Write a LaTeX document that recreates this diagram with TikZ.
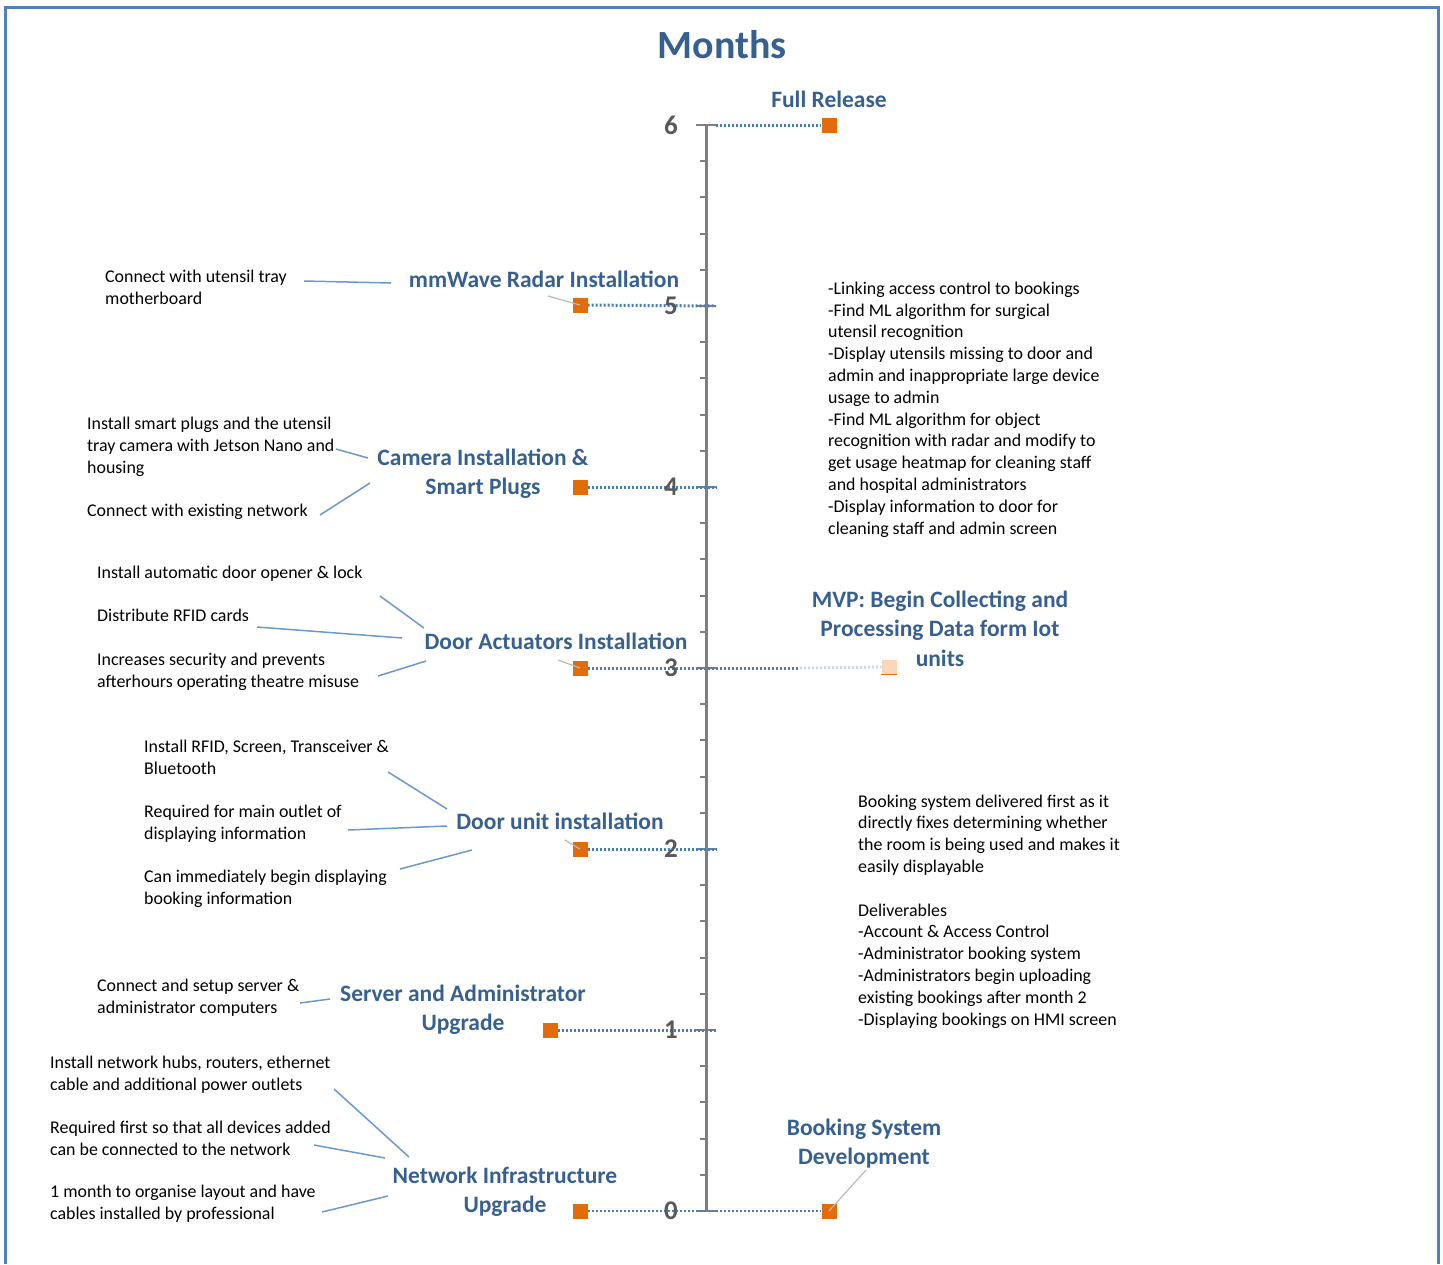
\documentclass[tikz,border=0pt]{standalone}
\usepackage{fontspec}
\setmainfont{Carlito}
\definecolor{mblue}{HTML}{376092}
\definecolor{lblue}{HTML}{6C98D0}
\definecolor{dblue}{HTML}{4A7EBB}
\definecolor{frameblue}{HTML}{4F81BD}
\definecolor{morange}{HTML}{E36C0A}
\definecolor{fadeorange}{HTML}{FAD7B8}
\definecolor{axisgrey}{HTML}{7F7F7F}
\definecolor{numgrey}{HTML}{595959}
\begin{document}
\begin{tikzpicture}
  [x=1pt,y=-1pt,
   note/.style={font=\fontsize{17.9}{21.8}\selectfont,align=left,inner sep=0pt,anchor=base west},
   stage/.style={font=\fontsize{23.5}{29.5}\selectfont\bfseries,text=mblue,align=center,inner sep=0pt,anchor=base},
   sq/.style={fill=morange,minimum size=15pt,inner sep=0pt},
   num/.style={font=\fontsize{27}{27}\selectfont\bfseries,text=numgrey,inner sep=0pt},
   link/.style={lblue,line width=1.5pt},
   pointer/.style={gray!55,line width=1.2pt},
   dots/.style={dblue,line width=3pt,dash pattern=on 2pt off 2pt}]
  \useasboundingbox (0,0) rectangle (1443,1264);
  \draw[frameblue,line width=3pt] (5,1264) -- (5,7) -- (1438,7) -- (1438,1264);
  \node (title)[font=\fontsize{40}{40}\selectfont\bfseries,text=mblue] at (722,45) {Months};

  % timeline
  \draw[axisgrey,line width=3pt] (706,125) -- (706,1211);
  \foreach \k in {1,...,29}
    \draw[axisgrey,line width=2pt] (700,125+36.2*\k) -- (706,125+36.2*\k);
  \foreach \m in {0,...,6} {
    \draw[axisgrey,line width=2.5pt] (696,1211-181*\m) -- (716,1211-181*\m);
    \coordinate (a\m) at (706,1211-181*\m);
    \coordinate (t\m) at (716,1211-181*\m);
  }

  % milestones
  \node (m6)[sq] at (829,125) {};
  \node (m5)[sq] at (580,305) {};
  \node (m4)[sq] at (580,487) {};
  \node (m3)[sq] at (580,668) {};
  \node (m2)[sq] at (580,849) {};
  \node (m1)[sq] at (550,1030) {};
  \node (m0)[sq] at (580,1211) {};
  \node (b0)[sq] at (829,1211) {};
  \node (v3)[fill=fadeorange,minimum size=15pt,inner sep=0pt] at (889,667) {};
  \draw[morange,line width=1.5pt] (v3.south west) -- (v3.south east);
  \coordinate (c3) at (800,668);

  \draw[dots] (t6) -- (m6);
  \foreach \m in {5,4,3,2,1}
    \draw[dots] (m\m) -- (t\m);
  \draw[dots] (t3) -- (c3);
  \draw[dots,dblue!30] (c3) -- (v3);
  \draw[dots,line width=1.6pt] (m0) -- (t0);
  \draw[dots,line width=1.6pt] (t0) -- (b0);

  \foreach \m in {0,...,6}
    \node (num\m)[num] at (671,1211-181*\m) {\m};

  % stage labels
  \node (full)[stage] at (829,107) {Full Release};
  \node (radar)[stage] at (544,287) {mmWave Radar Installation};
  \node (camera)[stage] at (483,494.5) {Camera Installation \&\\Smart Plugs};
  \node (actuator)[stage] at (556,649) {Door Actuators Installation};
  \node (mvp)[stage] at (940,666) {MVP: Begin Collecting and\\Processing Data form Iot\\units};
  \node (doorunit)[stage] at (560,829) {Door unit installation};
  \node (server)[stage] at (463,1030.5) {Server and Administrator\\Upgrade};
  \node (network)[stage] at (505,1212.5) {Network Infrastructure\\Upgrade};
  \node (booking)[stage] at (864,1164.5) {Booking System\\Development};

  % notes
  \node (r1)[note] at (105,304) {Connect with utensil tray\\motherboard};
  \node (c1)[note] at (87,473) {Install smart plugs and the utensil\\tray camera with Jetson Nano and\\housing};
  \node (c2)[note] at (87,516) {Connect with existing network};
  \node (d1)[note] at (97,578) {Install automatic door opener \& lock};
  \node (d2)[note] at (97,621) {Distribute RFID cards};
  \node (d3)[note] at (97,687) {Increases security and prevents\\afterhours operating theatre misuse};
  \node (u1)[note] at (144,774) {Install RFID, Screen, Transceiver \&\\Bluetooth};
  \node (u2)[note] at (144,839) {Required for main outlet of\\displaying information};
  \node (u3)[note] at (144,904) {Can immediately begin displaying\\booking information};
  \node (s1)[note] at (97,1013) {Connect and setup server \&\\administrator computers};
  \node (w1)[note] at (50,1090) {Install network hubs, routers, ethernet\\cable and additional power outlets};
  \node (w2)[note] at (50,1155) {Required first so that all devices added\\can be connected to the network};
  \node (w3)[note] at (50,1219) {1 month to organise layout and have\\cables installed by professional};
  \node (plan)[note] at (828,534) {-Linking access control to bookings\\-Find ML algorithm for surgical\\utensil recognition\\-Display utensils missing to door and\\admin and inappropriate large device\\usage to admin\\-Find ML algorithm for object\\recognition with radar and modify to\\get usage heatmap for cleaning staff\\and hospital administrators\\-Display information to door for\\cleaning staff and admin screen};
  \node (deliver)[note] at (858,1025) {Booking system delivered first as it\\directly fixes determining whether\\the room is being used and makes it\\easily displayable\\[21.8pt]Deliverables\\-Account \& Access Control\\-Administrator booking system\\-Administrators begin uploading\\existing bookings after month 2\\-Displaying bookings on HMI screen};

  % connector ends
  \coordinate (r1e) at (304,281);  \coordinate (radarw) at (391,283);
  \coordinate (c1e) at (336,449);  \coordinate (c1f) at (368,458);
  \coordinate (c2e) at (320,515);  \coordinate (c2f) at (370,483);
  \coordinate (d1e) at (380,596);  \coordinate (d1f) at (424,628);
  \coordinate (d2e) at (257,627);  \coordinate (d2f) at (402,638);
  \coordinate (d3e) at (378,676);  \coordinate (d3f) at (426,661);
  \coordinate (u1e) at (388,772);  \coordinate (u1f) at (447,809);
  \coordinate (u2e) at (348,830);  \coordinate (u2f) at (447,826);
  \coordinate (u3e) at (400,869);  \coordinate (u3f) at (472,850);
  \coordinate (s1e) at (300,1003); \coordinate (s1f) at (330,999);
  \coordinate (w1e) at (334,1089); \coordinate (w1f) at (409,1157);
  \coordinate (w2e) at (314,1145); \coordinate (w2f) at (385,1158);
  \coordinate (w3e) at (322,1212); \coordinate (w3f) at (388,1196);
  \foreach \from/\to in {r1e/radarw,c1e/c1f,c2e/c2f,d1e/d1f,d2e/d2f,d3e/d3f,u1e/u1f,u2e/u2f,u3e/u3f,s1e/s1f,w1e/w1f,w2e/w2f,w3e/w3f}
    \draw[link] (\from) -- (\to);

  % pointers to markers
  \coordinate (p5) at (548,296);
  \coordinate (p3) at (558,660);
  \coordinate (p2) at (565,840);
  \coordinate (pb) at (866,1170);
  \foreach \from/\to in {p5/m5,p3/m3,p2/m2,pb/b0}
    \draw[pointer] (\from) -- (\to.center);
\end{tikzpicture}
\end{document}
